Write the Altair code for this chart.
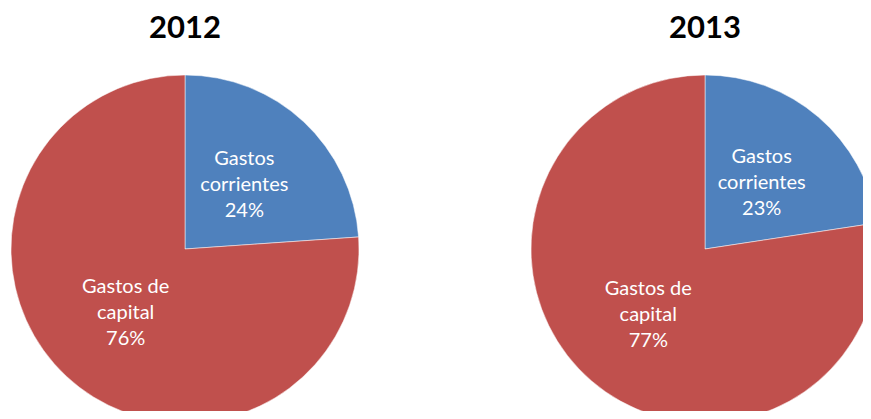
import altair as alt
import pandas as pd

years = ["2012", "2013"]
categories = ["Gastos corrientes", "Gastos de capital"]
label_lines = ["Gastos\ncorrientes", "Gastos de\ncapital"]
values_2012 = [23.9, 76.1]
values_2013 = [22.6, 77.4]
pct_2012 = ["24%", "76%"]
pct_2013 = ["23%", "77%"]

colors = ["#4F81BD", "#C0504D"]

rows = []
for year, vals, pcts in [("2012", values_2012, pct_2012), ("2013", values_2013, pct_2013)]:
    for i, (cat, v, p, lab) in enumerate(zip(categories, vals, pcts, label_lines)):
        rows.append({"year": year, "cat": cat, "value": v, "order": i,
                     "label": lab + "\n" + p})
df = pd.DataFrame(rows)

centers = {"2012": 177, "2013": 697}
cy = 241
R = 174
LH = 26

layers = []
for year in years:
    base = alt.Chart(df).transform_filter(alt.datum.year == year)
    arc = base.mark_arc(radius=R, stroke="white", strokeWidth=0.5).encode(
        theta=alt.Theta("value:Q", stack=True),
        order=alt.Order("order:Q"),
        color=alt.Color("cat:N", scale=alt.Scale(domain=categories, range=colors), legend=None),
        x=alt.value(centers[year]),
        y=alt.value(cy),
    )
    txt = base.mark_text(radius=87, fontSize=20, font="Lato", color="white",
                         lineBreak="\n", lineHeight=LH, dy=-LH,
                         align="center", baseline="middle").encode(
        theta=alt.Theta("value:Q", stack=True),
        order=alt.Order("order:Q"),
        text="label:N",
        x=alt.value(centers[year]),
        y=alt.value(cy),
    )
    title = alt.Chart(pd.DataFrame({"t": [year]})).mark_text(
        fontSize=31, font="Lato", fontWeight="bold", color="black",
        align="center", baseline="middle").encode(
        text="t:N", x=alt.value(centers[year]), y=alt.value(21))
    layers += [arc, txt, title]

chart = alt.layer(*layers).properties(
    width=855, height=403, padding=0,
    autosize=alt.AutoSizeParams(type="none"),
).configure(background="white", view=alt.ViewConfig(stroke=None))

chart.save("out.html", embed_options={"renderer": "svg", "actions": False})
